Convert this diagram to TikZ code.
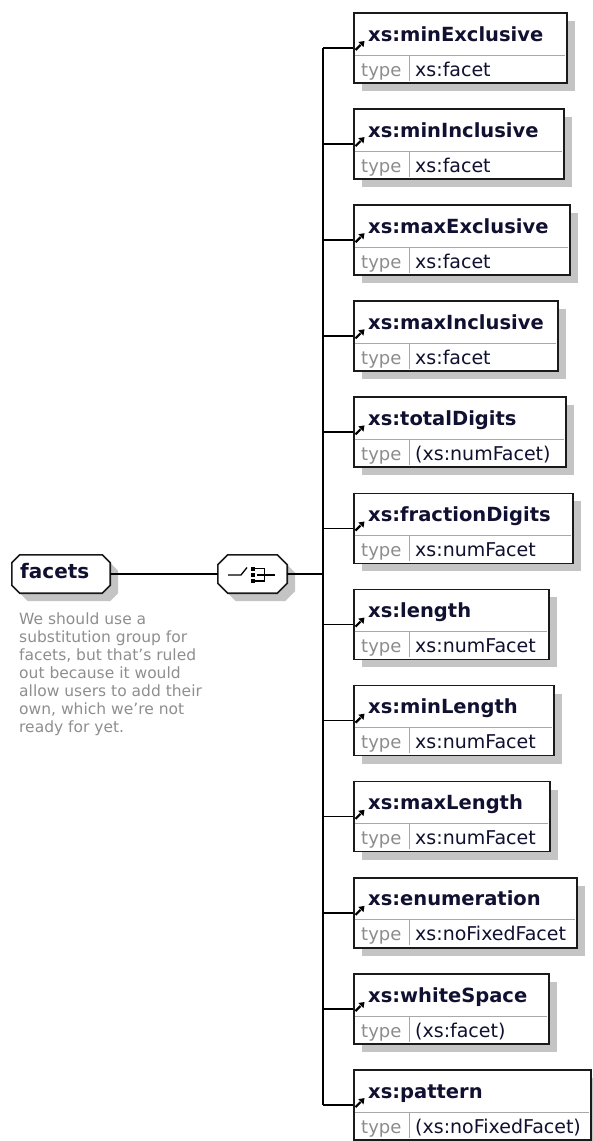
\documentclass[tikz,border=0pt]{standalone}
\usepackage{fontspec}
\setmainfont{DejaVu Sans}
\usetikzlibrary{calc,shadows}

\definecolor{boxline}{HTML}{1A1A1A}
\definecolor{shade}{HTML}{C4C4C4}
\definecolor{rowline}{HTML}{A8A8A8}
\definecolor{ink}{HTML}{101030}
\definecolor{faint}{HTML}{8C8C8C}
\definecolor{notegray}{HTML}{8E8E8E}

% outline of a node with cut corners: node, corner cut, offset
\newcommand\octpath[3]{
  ($(#1.north west)+(#2+#3,#3)$) -- ($(#1.north east)+(-#2+#3,#3)$) --
  ($(#1.north east)+(#3,#2+#3)$) -- ($(#1.south east)+(#3,-#2+#3)$) --
  ($(#1.south east)+(-#2+#3,#3)$) -- ($(#1.south west)+(#2+#3,#3)$) --
  ($(#1.south west)+(#3,-#2+#3)$) -- ($(#1.north west)+(#3,#2+#3)$) -- cycle}

\tikzset{
  shade8/.style={drop shadow={shadow xshift=8pt, shadow yshift=-8pt, fill=shade, opacity=1}},
  elembox/.style={rectangle, draw=boxline, line width=1.6pt, fill=white,
    minimum height=70pt, inner sep=0pt, anchor=north west, shade8},
  octospot/.style={rectangle, inner sep=0pt},
  octline/.style={draw=boxline, line width=1.6pt, fill=white},
  octshade/.style={fill=shade},
  conn/.style={line width=1.6pt, draw=black},
  rowrule/.style={draw=rowline, line width=1pt},
  titletext/.style={anchor=base west, inner sep=0pt, text=ink,
    font=\bfseries\fontsize{19.5}{22}\selectfont},
  typekey/.style={anchor=base west, inner sep=0pt, text=faint,
    font=\fontsize{18}{20}\selectfont},
  typeval/.style={anchor=base west, inner sep=0pt, text=ink,
    font=\fontsize{19}{22}\selectfont},
  notetext/.style={anchor=north west, inner sep=0pt, align=left, text=notegray,
    font=\fontsize{15.5}{18}\selectfont},
  refarrow/.pic={
    \draw[line width=2.2pt] (0,0) -- (5,-5);
    \fill (9,-9) -- (2.8,-8) -- (8,-2.8) -- cycle;
  },
  icon/.style={line width=1.3pt, draw=black}
}

\begin{document}
\begin{tikzpicture}[x=1pt, y=-1pt]
  \useasboundingbox (0,0) rectangle (593,1141);

  % the group and its choice compositor
  \node[octospot, minimum width=98pt, minimum height=38pt] (facets) at (61,574) {};
  \node[octospot, minimum width=69pt, minimum height=38pt] (choice) at (252.5,574) {};
  \fill[octshade] \octpath{facets}{8}{8};
  \draw[octline] \octpath{facets}{8}{0};
  \fill[octshade] \octpath{choice}{10}{8};
  \draw[octline] \octpath{choice}{10}{0};
  \node[titletext, font=\bfseries\fontsize{20}{22}\selectfont] (facetsname) at (20,578) {facets};
  \coordinate (hub) at (323,574);

  % choice symbol: switch, three dots and bracket
  \draw[icon] (228,575) -- (241,575) -- (247,567.5);
  \fill (250.5,566.5) rectangle (255,570.5);
  \fill (250.5,572.5) rectangle (255,577);
  \fill (250.5,579) rectangle (255,583);
  \draw[icon] (255,568.5) -- (264.5,568.5) -- (264.5,581) -- (255,581);
  \draw[icon] (257,575) -- (275,575);

  \draw[conn] (facets.east) -- (choice.west);
  \draw[conn] (choice.east) -- (hub);

  % annotation of the group
  \node[notetext] (doc) at (19,613) {We should use a\\substitution group for\\facets, but that's ruled\\out because it would\\allow users to add their\\own, which we're not\\ready for yet.};

  % referenced facet elements
  \foreach \i/\nm/\ty/\rx in {
      0/minExclusive/xs:facet/566,
      1/minInclusive/xs:facet/563,
      2/maxExclusive/xs:facet/569,
      3/maxInclusive/xs:facet/557,
      4/totalDigits/(xs:numFacet)/565,
      5/fractionDigits/xs:numFacet/572,
      6/length/xs:numFacet/548,
      7/minLength/xs:numFacet/553,
      8/maxLength/xs:numFacet/549,
      9/enumeration/xs:noFixedFacet/576,
      10/whiteSpace/(xs:facet)/548,
      11/pattern/(xs:noFixedFacet)/590} {
    \pgfmathsetmacro\t{12+96.1*\i}
    \node[elembox, minimum width={\rx-353}] (e\i) at (353,\t) {};
    \draw[rowrule] (354.5,\t+43) -- (\rx-1.5,\t+43);
    \draw[rowrule] (409,\t+43) -- (409,\t+68.5);
    \pic at (355.5,\t+38) {refarrow};
    \node[titletext] (n\i) at (368,\t+29) {xs:\nm};
    \node[typekey] (k\i) at (361,\t+64) {type};
    \node[typeval] (v\i) at (415,\t+64) {\ty};
    \draw[conn] (e\i.west) -- (e\i.west -| hub);
  }
  \draw[conn] (e0.west -| hub) -- (e11.west -| hub);
\end{tikzpicture}
\end{document}
